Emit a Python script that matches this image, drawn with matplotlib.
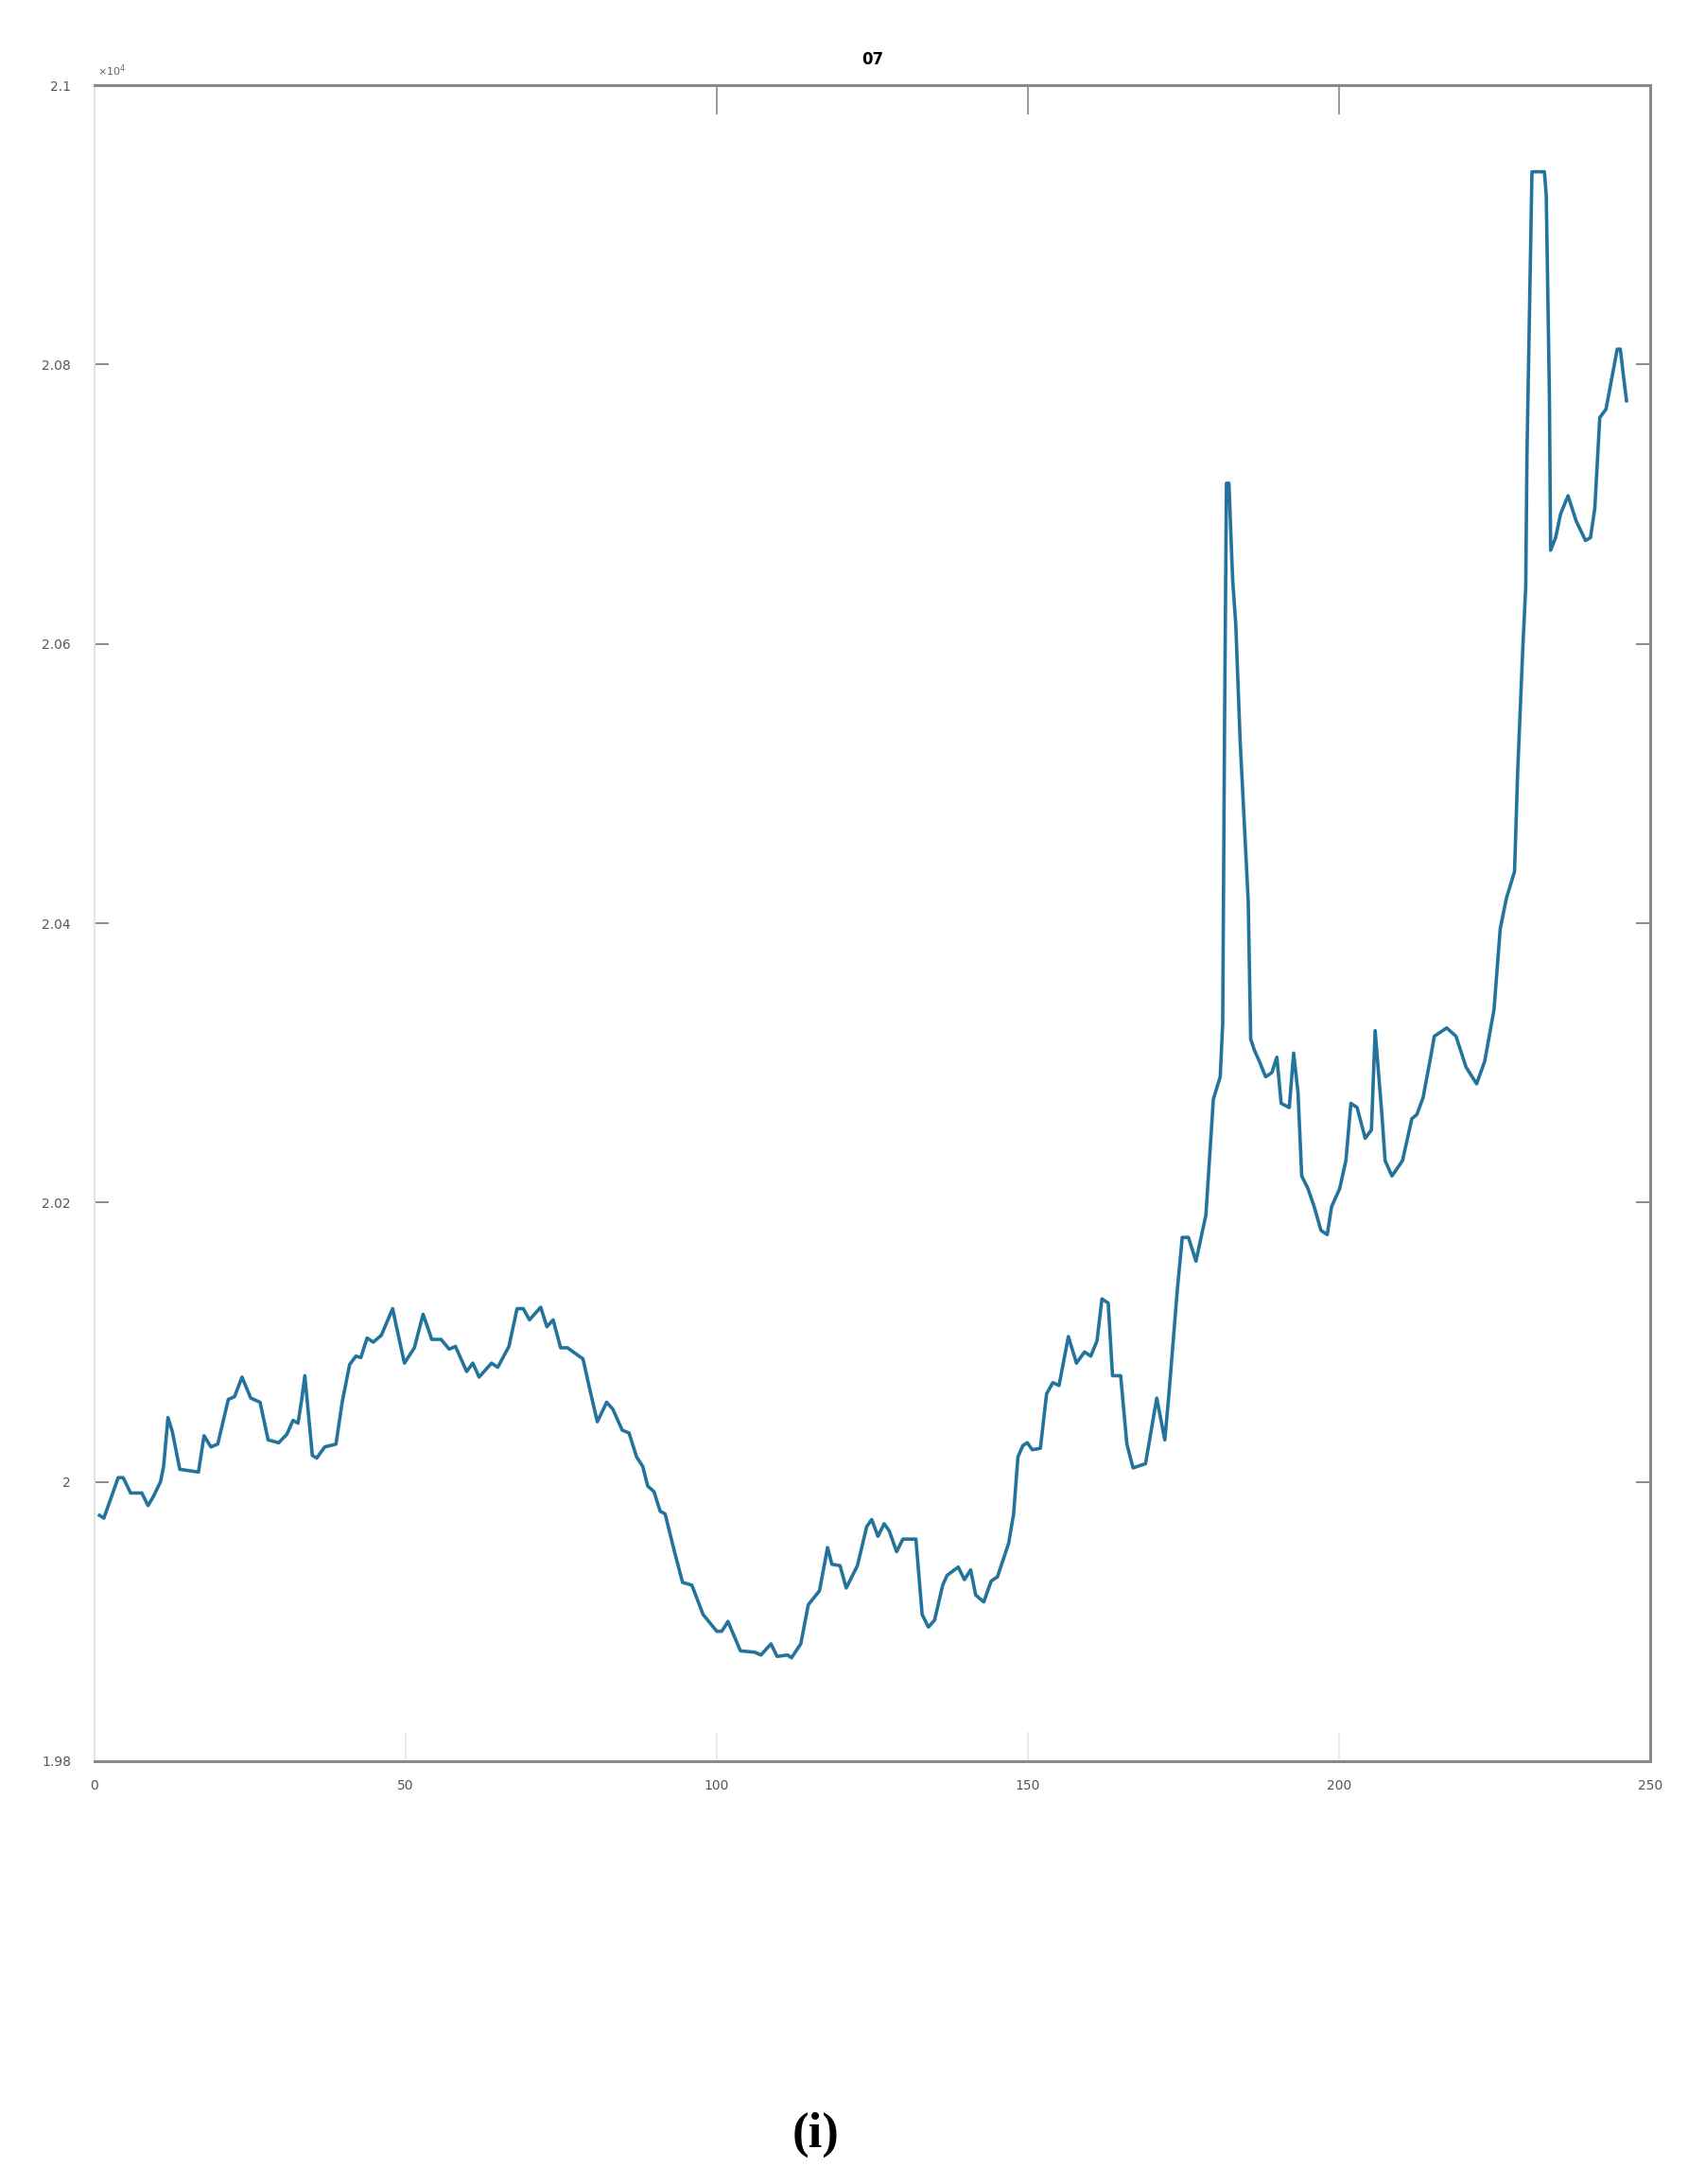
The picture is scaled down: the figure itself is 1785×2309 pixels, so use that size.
import matplotlib.pyplot as plt
from matplotlib.ticker import FuncFormatter
import numpy as np

# series (x index, value)
xs = [0.8, 1.5, 3.8, 4.6, 5.8, 7.6, 8.6, 9.4, 10.6, 11.1, 11.8, 12.5, 13.7, 16.7, 17.6,
      18.7, 19.8, 21.5, 22.5, 23.7, 25.1, 26.6, 27.9, 29.6, 30.9, 31.9, 32.7, 33.3, 33.8,
      34.2, 35.0, 35.7, 37.0, 38.8, 39.8, 41.0, 42.0, 42.8, 43.8, 44.8, 46.1, 47.9, 49.8,
      51.4, 52.8, 54.2, 55.7, 57.0, 58.0, 59.8, 60.8, 61.8, 63.8, 64.8, 66.6, 67.9, 68.9,
      69.9, 71.7, 72.7, 73.7, 74.9, 76.0, 78.5, 79.5, 80.8, 82.3, 83.3, 84.8, 85.9, 87.1,
      88.1, 88.9, 89.9, 90.9, 91.7, 93.2, 94.5, 96.0, 97.8, 100.0, 100.8, 101.8, 103.8,
      106.1, 107.1, 108.7, 109.7, 111.4, 112.0, 113.5, 114.7, 116.5, 117.8, 118.5, 119.8,
      120.8, 122.6, 124.1, 124.9, 125.9, 126.9, 127.7, 128.9, 129.9, 132.0, 132.5, 133.0,
      134.0, 135.0, 136.3, 137.0, 138.8, 139.8, 140.8, 141.6, 142.9, 144.1, 145.1, 146.9,
      147.7, 148.4, 149.2, 149.9, 150.7, 152.0, 153.0, 154.0, 155.0, 156.5, 157.8, 159.1,
      160.1, 161.1, 161.9, 162.9, 163.6, 164.9, 165.9, 166.9, 168.9, 170.7, 172.0, 172.7,
      174.0, 174.8, 175.8, 177.0, 178.6, 179.8, 180.9, 181.3, 181.6, 181.9, 182.3, 182.9,
      183.4, 184.1, 185.4, 185.8, 186.4, 187.2, 188.2, 189.2, 190.0, 190.7, 192.0, 192.7,
      193.4, 194.0, 195.0, 196.0, 197.1, 198.1, 198.8, 200.1, 201.1, 201.9, 202.9, 204.2,
      205.2, 205.8, 206.2, 206.9, 207.4, 208.5, 210.2, 211.7, 212.5, 213.5, 214.8, 215.3,
      217.3, 218.8, 220.4, 222.1, 223.4, 224.9, 225.9, 226.9, 228.2, 228.7, 229.5, 230.0,
      230.2, 230.7, 231.0, 233.0, 233.3, 233.8, 234.0, 234.8, 235.6, 236.8, 238.1, 239.6,
      240.4, 241.1, 241.9, 242.9, 243.7, 244.7, 245.2, 245.7, 246.2]
vals = [19976, 19974, 20003, 20003, 19992, 19992, 19983, 19989, 20000, 20011, 20046, 20036,
        20009, 20007, 20033, 20025, 20027, 20059, 20061, 20075, 20060, 20057, 20030, 20028,
        20034, 20044, 20042, 20059, 20076, 20057, 20019, 20017, 20025, 20027, 20057, 20084,
        20090, 20089, 20103, 20100, 20105, 20124, 20085, 20096, 20120, 20102, 20102, 20095,
        20097, 20079, 20085, 20075, 20085, 20082, 20097, 20124, 20124, 20116, 20125, 20111,
        20116, 20096, 20096, 20088, 20068, 20043, 20057, 20052, 20037, 20035, 20018, 20011,
        19997, 19993, 19979, 19977, 19950, 19928, 19926, 19905, 19893, 19893, 19900, 19879,
        19878, 19876, 19884, 19875, 19876, 19874, 19884, 19912, 19922, 19953, 19941, 19940,
        19924, 19940, 19968, 19973, 19961, 19970, 19965, 19950, 19959, 19959, 19932, 19905,
        19896, 19901, 19926, 19933, 19939, 19930, 19937, 19919, 19914, 19929, 19932, 19956,
        19977, 20018, 20026, 20028, 20023, 20024, 20063, 20071, 20069, 20104, 20085, 20093,
        20090, 20101, 20131, 20128, 20076, 20076, 20027, 20010, 20013, 20060, 20030, 20065,
        20137, 20175, 20175, 20158, 20191, 20274, 20290, 20328, 20542, 20715, 20715, 20646,
        20614, 20531, 20416, 20317, 20309, 20301, 20290, 20293, 20304, 20271, 20268, 20307,
        20279, 20219, 20210, 20197, 20180, 20177, 20197, 20210, 20230, 20271, 20268, 20246,
        20252, 20323, 20301, 20262, 20230, 20219, 20230, 20260, 20263, 20275, 20306, 20319,
        20325, 20319, 20297, 20285, 20301, 20338, 20396, 20418, 20437, 20508, 20594, 20641,
        20736, 20860, 20938, 20938, 20921, 20779, 20667, 20676, 20693, 20706, 20688, 20674,
        20676, 20697, 20762, 20768, 20787, 20811, 20811, 20792, 20774]

x_ticks = [0, 50, 100, 150, 200, 250]
top_ticks = [100, 150, 200]  # the 50 tick on top is barely visible in the source
y_ticks = [19800, 20000, 20200, 20400, 20600, 20800, 21000]
title = '07'
panel_label = '(i)'

plt.rcParams['font.family'] = ['Liberation Sans Narrow', 'DejaVu Sans']

fig = plt.figure(figsize=(17.85, 23.09), dpi=100)
ax = fig.add_axes([0.056, 0.1936, 0.9216, 0.7674])

ax.plot(xs, vals, color='#23739c', linewidth=2.6)

ax.set_xlim(0, 250)
ax.set_ylim(19800, 21000)
ax.set_xticks(x_ticks)
ax.set_yticks(y_ticks)
ax.yaxis.set_major_formatter(FuncFormatter(lambda v, p: f'{v / 1e4:g}'))

ax.tick_params(axis='x', direction='in', length=22, width=1.2, color='#e6e6e6',
               labelsize=10, labelcolor='#555555', pad=14)
ax.tick_params(axis='y', direction='in', length=11, width=1.2, color='#777777',
               labelsize=10, labelcolor='#555555', pad=18)

# top and right ticks as in the MATLAB box
top = ax.secondary_xaxis('top')
top.set_xticks(top_ticks)
top.tick_params(direction='in', length=22, width=1.2, color='#888888', labeltop=False)
top.spines['top'].set_visible(False)
right = ax.secondary_yaxis('right')
right.set_yticks(y_ticks)
right.tick_params(direction='in', length=11, width=1.2, color='#777777', labelright=False)
right.spines['right'].set_visible(False)

for side in ['top', 'right', 'bottom']:
    ax.spines[side].set_color('#8a8a8a')
    ax.spines[side].set_linewidth(2.2)
ax.spines['left'].set_color('#e4e4e4')
ax.spines['left'].set_linewidth(1.5)

ax.set_title(title, fontsize=12, fontweight='bold', pad=16)
ax.text(0.002, 1.004, r'$\times10^4$', transform=ax.transAxes, fontsize=8,
        color='#666666', ha='left', va='bottom')

fig.text(0.4835, 0.0225, panel_label, fontsize=38, fontweight='bold',
         family='Liberation Serif', ha='center', va='center')

plt.savefig('out.png', dpi=100)
